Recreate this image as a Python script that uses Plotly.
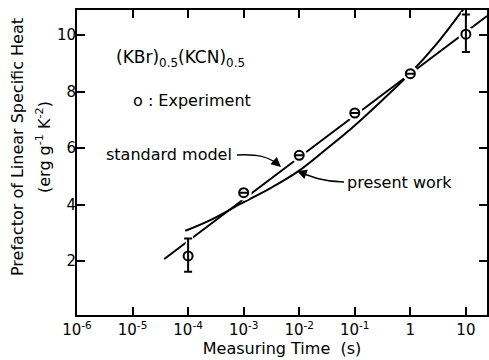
import plotly.graph_objects as go

# ---- data ----
exp_t = [1e-4, 1e-3, 1e-2, 1e-1, 1, 10]
exp_vals = [2.18, 4.42, 5.74, 7.24, 8.63, 10.03]
exp_err_plus = [0.62, 0, 0, 0, 0, 0.70]
exp_err_minus = [0.56, 0, 0, 0, 0, 0.63]

std_t = [3.72e-5, 1e-4, 1e-3, 1e-2, 1e-1, 1, 10, 24.0]
std_vals = [2.07, 2.71, 4.19, 5.67, 7.15, 8.63, 10.11, 10.67]

pw_t = [8.91e-5, 2.51e-4, 8.71e-4, 3.16e-3, 1e-2, 3.16e-2, 1e-1, 0.316, 1, 3.16, 8.91, 11.2]
pw_vals = [3.07, 3.45, 4.02, 4.60, 5.20, 5.98, 6.80, 7.70, 8.65, 9.75, 10.90, 11.15]

x_tickvals = [1e-6, 1e-5, 1e-4, 1e-3, 1e-2, 1e-1, 1, 10]
x_ticktext = ["10<sup>-6</sup>", "10<sup>-5</sup>", "10<sup>-4</sup>", "10<sup>-3</sup>",
              "10<sup>-2</sup>", "10<sup>-1</sup>", "1", "10"]
y_tickvals = [2, 4, 6, 8, 10]

W, H = 489, 360
ML, MR, MT, MB = 77, 2, 10, 45
PW, PH = W - ML - MR, H - MT - MB


def px(x, y):
    return (x - ML) / PW, (H - MB - y) / PH


FONT = "DejaVu Sans"
fig = go.Figure()

fig.add_trace(go.Scatter(x=std_t, y=std_vals, mode="lines",
                         line=dict(color="black", width=2), showlegend=False))
fig.add_trace(go.Scatter(x=pw_t, y=pw_vals, mode="lines", line_shape="spline",
                         line=dict(color="black", width=2), showlegend=False))
# white masks that break the lines around the experimental points
fig.add_trace(go.Scatter(x=exp_t, y=exp_vals, mode="markers",
                         marker=dict(color="white", size=16),
                         error_y=dict(type="data", symmetric=False, array=exp_err_plus,
                                      arrayminus=exp_err_minus, color="white",
                                      thickness=5, width=5),
                         showlegend=False))
fig.add_trace(go.Scatter(x=exp_t, y=exp_vals, mode="markers",
                         marker=dict(symbol="circle-open", color="black", size=9,
                                     line=dict(width=2, color="black")),
                         error_y=dict(type="data", symmetric=False, array=exp_err_plus,
                                      arrayminus=exp_err_minus, color="black",
                                      thickness=2, width=4),
                         showlegend=False))

# text labels
def text(x, y, s, anchor="left", size=16):
    xp, yp = px(x, y)
    fig.add_annotation(x=xp, y=yp, xref="paper", yref="paper", text=s, showarrow=False,
                       xanchor=anchor, yanchor="middle",
                       font=dict(family=FONT, size=size, color="black"))

text(114, 58, "(KBr)<sub>0.5</sub>(KCN)<sub>0.5</sub>", size=17)
text(131, 100, "o : Experiment")
text(104, 154, "standard model")
text(345, 182, "present work")

# curved leader lines
def path(points):
    p = [px(*pt) for pt in points]
    s = "M %f,%f C %f,%f %f,%f %f,%f" % (p[0][0], p[0][1], p[1][0], p[1][1],
                                         p[2][0], p[2][1], p[3][0], p[3][1])
    fig.add_shape(type="path", path=s, xref="paper", yref="paper",
                  line=dict(color="black", width=1.5))

path([(237, 155), (258, 154), (268, 157), (276, 163)])
path([(344, 182), (325, 182), (312, 177), (302, 173)])

def head(x, y, ax, ay):
    xp, yp = px(x, y)
    fig.add_annotation(x=xp, y=yp, xref="paper", yref="paper", text="", showarrow=True,
                       ax=ax, ay=ay, arrowhead=2, arrowsize=1.3, arrowwidth=1.5,
                       arrowcolor="black", standoff=0)

head(281, 167, -7, -6)
head(297, 171, 8, 3)

# y-axis title (two lines)
for xx, s in [(17, "Prefactor of Linear Specific Heat"),
              (43, "(erg g<sup>-1</sup> K<sup>-2</sup>)")]:
    xp, yp = px(xx, 147)
    fig.add_annotation(x=xp, y=yp, xref="paper", yref="paper", text=s, showarrow=False,
                       textangle=-90, xanchor="center", yanchor="middle",
                       font=dict(family=FONT, size=16, color="black"))

fig.update_xaxes(type="log", range=[-6, 1.38], tickvals=x_tickvals, ticktext=x_ticktext,
                 ticks="inside", ticklen=8, tickwidth=2, tickcolor="black",
                 showline=True, linewidth=2, linecolor="black", mirror="ticks",
                 showgrid=False, zeroline=False,
                 tickfont=dict(family=FONT, size=15, color="black"),
                 title=dict(text="Measuring Time  (s)", standoff=4,
                            font=dict(family=FONT, size=16, color="black")))
fig.update_yaxes(range=[0.09, 10.885], tickvals=y_tickvals,
                 ticks="inside", ticklen=8, tickwidth=2, tickcolor="black",
                 showline=True, linewidth=2, linecolor="black", mirror="ticks",
                 showgrid=False, zeroline=False, ticklabelstandoff=-4,
                 tickfont=dict(family=FONT, size=15, color="black"))

fig.update_layout(width=W, height=H, margin=dict(l=ML, r=MR, t=MT, b=MB, autoexpand=False),
                  plot_bgcolor="white", paper_bgcolor="white")

fig.write_html("out.html", config={"displayModeBar": False},
               post_script="document.body.style.margin='0px';document.body.style.overflow='hidden';")
